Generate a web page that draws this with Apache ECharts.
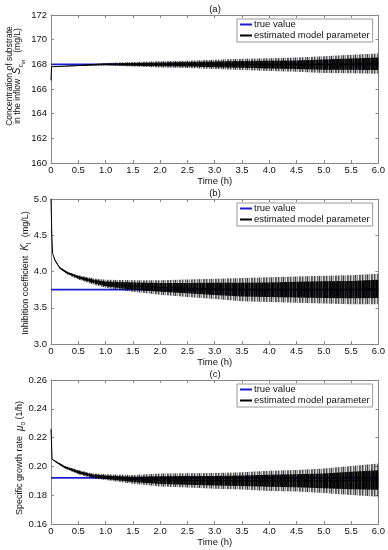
<!DOCTYPE html>
<html><head><meta charset="utf-8">
<script src="https://cdn.jsdelivr.net/npm/echarts@6/dist/echarts.min.js"></script>
<style>html,body{margin:0;padding:0;background:#fff}#c{width:388px;height:550px}</style>
</head><body><div id="c"></div>
<script>
// ---------- data ----------
// Panel (a): concentration of substrate in the inflow (mg/L)
const timeA   = [0, 0.01, 0.25, 0.5, 0.75, 1.0, 1.5, 2.0, 2.5, 3.0, 3.5, 4.0, 4.5, 5.0, 5.5, 6.0];
const estA    = [166.7, 167.8, 167.85, 167.9, 167.96, 168.0, 168.0, 168.0, 168.0, 168.0, 168.0, 167.98, 167.97, 167.98, 168.02, 168.05];
const outerA  = [0, 0, 0.02, 0.04, 0.07, 0.1, 0.18, 0.25, 0.3, 0.38, 0.45, 0.52, 0.58, 0.68, 0.75, 0.82];
const innerA  = [0, 0, 0.01, 0.02, 0.04, 0.06, 0.11, 0.15, 0.18, 0.23, 0.27, 0.31, 0.35, 0.41, 0.45, 0.5];
const trueA   = 168;

// Panel (b): inhibition coefficient K_I (mg/L)
const timeB   = [0, 0.015, 0.03, 0.07, 0.16, 0.3, 0.5, 0.8, 1.0, 1.5, 2.0, 2.5, 3.0, 3.5, 4.0, 4.5, 5.0, 5.5, 6.0];
const estB    = [5.0, 4.5, 4.25, 4.16, 4.05, 3.98, 3.92, 3.86, 3.83, 3.80, 3.78, 3.77, 3.76, 3.75, 3.75, 3.75, 3.75, 3.75, 3.76];
const outerB  = [0, 0, 0, 0.01, 0.015, 0.02, 0.03, 0.045, 0.055, 0.08, 0.1, 0.12, 0.14, 0.16, 0.17, 0.18, 0.19, 0.2, 0.21];
const innerB  = [0, 0, 0, 0.005, 0.008, 0.012, 0.018, 0.027, 0.033, 0.05, 0.06, 0.07, 0.085, 0.095, 0.1, 0.11, 0.115, 0.12, 0.125];
const trueB   = 3.75;

// Panel (c): specific growth rate mu_o (1/h)
const timeC   = [0, 0.02, 0.1, 0.25, 0.5, 0.75, 1.0, 1.5, 2.0, 2.5, 3.0, 3.5, 4.0, 4.5, 5.0, 5.5, 6.0];
const estC    = [0.226, 0.205, 0.203, 0.1995, 0.196, 0.1935, 0.1925, 0.191, 0.1905, 0.1903, 0.19, 0.19, 0.19, 0.19, 0.19, 0.1902, 0.1905];
const outerC  = [0, 0, 0.0008, 0.001, 0.0015, 0.0018, 0.002, 0.003, 0.0045, 0.005, 0.0055, 0.006, 0.007, 0.0075, 0.0085, 0.0100, 0.0115];
const innerC  = [0, 0, 0.0004, 0.0006, 0.0009, 0.0011, 0.0012, 0.0018, 0.0027, 0.003, 0.0033, 0.0036, 0.0042, 0.0045, 0.0051, 0.006, 0.0068];
const trueC   = 0.192;

const yScaleA = {min: 160, max: 172, interval: 2, digits: 0};
const yScaleB = {min: 3.0, max: 5.0, interval: 0.5, digits: 1};
const yScaleC = {min: 0.16, max: 0.26, interval: 0.02, digits: 2};
const xScale  = {min: 0, max: 6, interval: 0.5};
const panelTitles = ['(a)', '(b)', '(c)'];
const legendNames = ['true value', 'estimated model parameter'];
// --------------------------------------------------

const FONT = '"Liberation Sans", Arial, sans-serif';
const TXT = '#111';
const AX = '#888';
const BLUE = '#1c1cd0';
const grids = [
  {left: 51, right: 9, top: 15, height: 148},
  {left: 51, right: 9, top: 199, height: 145},
  {left: 51, right: 9, top: 380, height: 144}
];
const yScales = [yScaleA, yScaleB, yScaleC];

// vertical-hatch texture (style only) imitating the dense oscillation of the estimate
function stripePattern(alphas) {
  const c = document.createElement('canvas');
  c.width = alphas.length; c.height = 2;
  const g = c.getContext('2d');
  alphas.forEach((a, i) => { g.fillStyle = 'rgba(0,0,0,' + a + ')'; g.fillRect(i, 0, 1, 2); });
  return {image: c, repeat: 'repeat'};
}
const outerFill = stripePattern([0.55, 0.2, 0.7, 0.35, 0.15, 0.6, 0.3, 0.75, 0.25, 0.45, 0.1, 0.65]);
const innerFill = stripePattern([0.95, 0.8, 1, 0.7, 0.9, 1, 0.75, 0.95, 0.85, 1, 0.7, 0.9, 1]);

const xAxes = [], yAxes = [];
grids.forEach((g, i) => {
  xAxes.push({
    type: 'value', gridIndex: i, min: xScale.min, max: xScale.max, interval: xScale.interval,
    position: 'bottom',
    name: 'Time (h)', nameLocation: 'middle', nameGap: 9,
    nameTextStyle: {fontFamily: FONT, fontSize: 9.5, color: TXT},
    axisLine: {show: true, onZero: false, lineStyle: {color: AX, width: 1}},
    axisTick: {show: true, inside: true, length: 3, lineStyle: {color: AX}},
    axisLabel: {margin: 2, fontFamily: FONT, fontSize: 9.5, color: TXT,
      formatter: v => v === 0 ? '0' : v.toFixed(1)},
    splitLine: {show: false}
  });
  xAxes.push({
    type: 'value', gridIndex: i, min: xScale.min, max: xScale.max, interval: xScale.interval,
    position: 'top',
    axisLine: {show: true, onZero: false, lineStyle: {color: AX, width: 1}},
    axisTick: {show: true, inside: true, length: 3, lineStyle: {color: AX}},
    axisLabel: {show: false}, splitLine: {show: false}
  });
  const s = yScales[i];
  yAxes.push({
    type: 'value', gridIndex: i, min: s.min, max: s.max, interval: s.interval, position: 'left',
    axisLine: {show: true, onZero: false, lineStyle: {color: AX, width: 1}},
    axisTick: {show: true, inside: true, length: 3, lineStyle: {color: AX}},
    axisLabel: {margin: 4, fontFamily: FONT, fontSize: 9.5, color: TXT,
      formatter: v => v.toFixed(s.digits)},
    splitLine: {show: false}
  });
  yAxes.push({
    type: 'value', gridIndex: i, min: s.min, max: s.max, interval: s.interval, position: 'right',
    axisLine: {show: true, onZero: false, lineStyle: {color: AX, width: 1}},
    axisTick: {show: true, inside: true, length: 3, lineStyle: {color: AX}},
    axisLabel: {show: false}, splitLine: {show: false}
  });
});

// band drawn as a polygon through the axis scales (api.coord)
function bandSeries(i, t, est, hw, fill, z) {
  return {
    type: 'custom', xAxisIndex: i * 2, yAxisIndex: i * 2, silent: true, z: z,
    data: [[t[0], est[0]]],
    renderItem: (params, api) => {
      const upper = t.map((x, k) => api.coord([x, est[k] + hw[k]]));
      const lower = t.map((x, k) => api.coord([x, est[k] - hw[k]])).reverse();
      return {type: 'polygon', shape: {points: upper.concat(lower)}, style: {fill: fill}};
    }
  };
}

function panelSeries(i, t, est, outer, inner, trueVal) {
  const xi = i * 2, yi = i * 2;
  return [
    {name: legendNames[0], type: 'line', xAxisIndex: xi, yAxisIndex: yi, symbol: 'none',
      color: BLUE, lineStyle: {color: BLUE, width: 1.6}, z: 2,
      data: [[xScale.min, trueVal], [xScale.max, trueVal]]},
    bandSeries(i, t, est, outer, outerFill, 3),
    bandSeries(i, t, est, inner, innerFill, 4),
    {name: legendNames[1], type: 'line', xAxisIndex: xi, yAxisIndex: yi, symbol: 'none',
      color: '#000', lineStyle: {color: '#000', width: 1}, z: 5,
      data: t.map((x, k) => [x, est[k]])}
  ];
}

const series = [].concat(
  panelSeries(0, timeA, estA, outerA, innerA, trueA),
  panelSeries(1, timeB, estB, outerB, innerB, trueB),
  panelSeries(2, timeC, estC, outerC, innerC, trueC)
);

const legends = grids.map(g => ({
  data: legendNames, orient: 'vertical', left: 237, top: g.top + 4,
  icon: 'rect', itemWidth: 12, itemHeight: 2, itemGap: 0,
  padding: [0, 3, 1, 3], borderColor: '#999', borderWidth: 1, backgroundColor: '#fff',
  textStyle: {fontFamily: FONT, fontSize: 9.5, color: TXT, lineHeight: 11, padding: [0, 0, 0, -3]},
  selectedMode: false
}));

const sub = {fontFamily: FONT, fontSize: 6.5, fill: TXT, verticalAlign: 'top', padding: [5, 0, 0, 0]};
const graphics = [];
grids.forEach((g, i) => {
  graphics.push({type: 'text', x: 215, y: g.top - 6,
    style: {text: panelTitles[i], font: '9.5px ' + FONT, fill: TXT, align: 'center', verticalAlign: 'middle'}});
});
graphics.push({type: 'text', x: 10, y: 76, rotation: Math.PI / 2,
  style: {text: 'Concentration of substrate', font: '8.5px ' + FONT, fill: TXT, align: 'center', verticalAlign: 'middle'}});
graphics.push({type: 'text', x: 20, y: 76, rotation: Math.PI / 2,
  style: {text: '{n|in the inflow  }{s|S}{c|c}{cc|in}{n|   (mg/L)}', align: 'center', verticalAlign: 'middle',
    rich: {
      n: {fontFamily: FONT, fontSize: 8.5, fill: TXT, verticalAlign: 'top', padding: [0, 0, 0, 0]},
      s: {fontFamily: FONT, fontSize: 10, fontStyle: 'italic', fill: TXT, verticalAlign: 'top', padding: [-1, 0, 0, 0]},
      c: {fontFamily: FONT, fontSize: 7, fill: TXT, verticalAlign: 'top', padding: [4, 0, 0, 0]},
      cc: {fontFamily: FONT, fontSize: 5.5, fontStyle: 'italic', fill: TXT, verticalAlign: 'top', padding: [7, 0, 0, 0]}
    }}});
graphics.push({type: 'text', x: 27, y: 273, rotation: Math.PI / 2,
  style: {text: '{n|Inhibition coefficient  }{s|K}{c|I}{n|  (mg/L)}', align: 'center', verticalAlign: 'middle',
    rich: {
      n: {fontFamily: FONT, fontSize: 9, fill: TXT, verticalAlign: 'top'},
      s: {fontFamily: FONT, fontSize: 10, fontStyle: 'italic', fill: TXT, verticalAlign: 'top', padding: [-1, 0, 0, 0]},
      c: sub
    }}});
graphics.push({type: 'text', x: 21, y: 458, rotation: Math.PI / 2,
  style: {text: '{n|Specific growth rate  }{s|\u03bc}{c|o}{n| (1/h)}', align: 'center', verticalAlign: 'middle',
    rich: {
      n: {fontFamily: FONT, fontSize: 9, fill: TXT, verticalAlign: 'top'},
      s: {fontFamily: FONT, fontSize: 10, fontStyle: 'italic', fill: TXT, verticalAlign: 'top', padding: [0, 0, 0, 0]},
      c: sub
    }}});

const chart = echarts.init(document.getElementById('c'), null, {renderer: 'canvas'});
chart.setOption({
  animation: false,
  backgroundColor: '#fff',
  grid: grids,
  xAxis: xAxes,
  yAxis: yAxes,
  legend: legends,
  series: series,
  graphic: graphics
});
</script>
</body></html>
